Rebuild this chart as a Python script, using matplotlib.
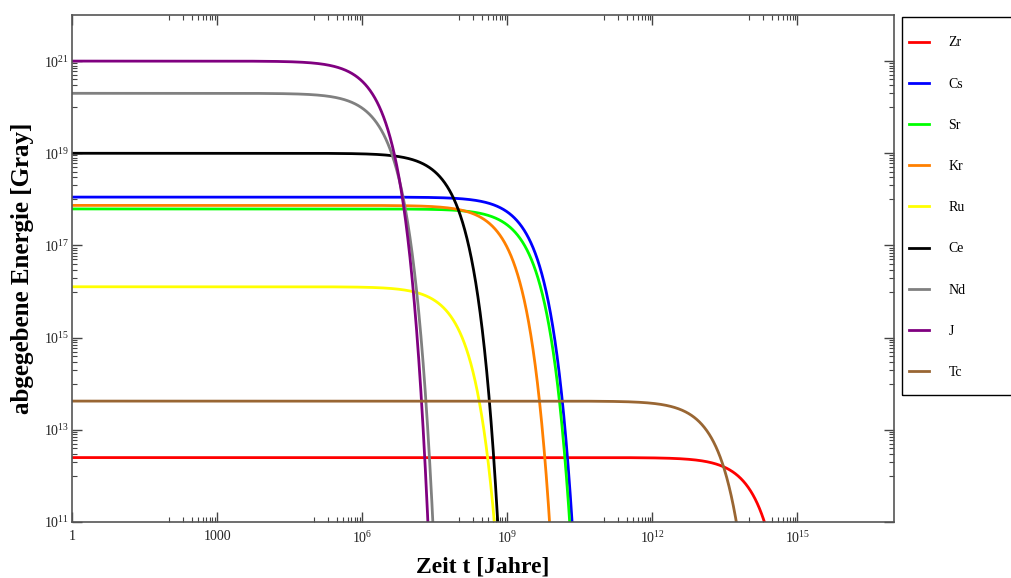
import numpy as np
import matplotlib
matplotlib.use("Agg")
import matplotlib.pyplot as plt
from matplotlib.patches import Rectangle
from matplotlib.ticker import FixedLocator, FixedFormatter

plt.rcParams['font.family'] = ['Liberation Serif', 'DejaVu Serif']
plt.rcParams['mathtext.fontset'] = 'custom'
plt.rcParams['mathtext.rm'] = 'Liberation Serif'
plt.rcParams['mathtext.it'] = 'Liberation Serif:italic'

# elements in legend order
elements = ['Zr', 'Cs', 'Sr', 'Kr', 'Ru', 'Ce', 'Nd', 'J', 'Tc']
# starting energy (Gray) read from the plateaus
start_energy = [2.5e12, 1.12e18, 6.2e17, 7.4e17, 1.27e16, 1.0e19, 2.0e20, 1.0e21, 4.2e13]
half_life = [4.5e13, 9.4e8, 8.7e8, 3.3e8, 3.2e7, 2.4e7, 9.4e5, 6.9e5, 6.3e12]

line_colors = ['#ff0000', '#0000ff', '#00ff00', '#ff8000', '#ffff00',
               '#000000', '#808080', '#800080', '#996633']

x_ticks = [1, 1e3, 1e6, 1e9, 1e12, 1e15]
x_tick_labels = ['1', '1000', '$10^{6}$', '$10^{9}$', '$10^{12}$', '$10^{15}$']
y_ticks = [1e11, 1e13, 1e15, 1e17, 1e19, 1e21]
y_tick_labels = ['$10^{11}$', '$10^{13}$', '$10^{15}$', '$10^{17}$', '$10^{19}$', '$10^{21}$']

t = np.logspace(0, 17, 3000)

fig = plt.figure(figsize=(10.11, 5.78), dpi=100)
ax = fig.add_axes([72 / 1011, 1 - 522 / 578, (894 - 72) / 1011, (522 - 15) / 578])

for name, e0, th, c in zip(elements, start_energy, half_life, line_colors):
    ax.plot(t, e0 * 0.5 ** (t / th), color=c, lw=2.0, label=name)

ax.set_xscale('log')
ax.set_yscale('log')
ax.set_xlim(1, 1e17)
ax.set_ylim(1e11, 1e22)

# Mathematica style ticks: minors only in decade below each major
x_minor = [k * m / 10 for m in x_ticks[1:] for k in range(1, 10)]
y_minor = [k * m / 10 for m in y_ticks for k in range(1, 10)]
ax.xaxis.set_major_locator(FixedLocator(x_ticks))
ax.xaxis.set_major_formatter(FixedFormatter(x_tick_labels))
ax.xaxis.set_minor_locator(FixedLocator(x_minor))
ax.xaxis.set_minor_formatter(FixedFormatter([''] * len(x_minor)))
ax.yaxis.set_major_locator(FixedLocator(y_ticks))
ax.yaxis.set_major_formatter(FixedFormatter(y_tick_labels))
ax.yaxis.set_minor_locator(FixedLocator(y_minor))
ax.yaxis.set_minor_formatter(FixedFormatter([''] * len(y_minor)))

ax.tick_params(which='both', direction='in', top=True, right=True,
               color='#444444', labelcolor='#222222', labelsize=10)
ax.tick_params(which='major', length=7, width=1)
ax.tick_params(which='minor', length=3.5, width=0.8)
ax.tick_params(axis='x', pad=6)
ax.tick_params(axis='y', pad=2)
for s in ax.spines.values():
    s.set_color('#555555')
    s.set_linewidth(1.2)

ax.set_xlabel('Zeit t [Jahre]', fontsize=17, fontweight='bold')
ax.set_ylabel('abgegebene Energie [Gray]', fontsize=18, fontweight='bold')
ax.xaxis.set_label_coords(0.5, -0.069)
ax.yaxis.set_label_coords(-0.046, 0.5)

# legend frame, cut by the right edge like in the original
frame = Rectangle((902 / 1011, 1 - 395 / 578), 0.2, (395 - 16.7) / 578,
                  transform=fig.transFigure, fill=False, edgecolor='black', lw=1.0)
fig.patches.append(frame)

leg = ax.legend(loc='upper left', bbox_to_anchor=(909 / 1011, 1 - 36.5 / 578),
                bbox_transform=fig.transFigure, fontsize=10, frameon=False,
                borderaxespad=0, borderpad=0, handlelength=1.45,
                handletextpad=1.4, handleheight=0.7, labelspacing=2.03)
for lh in leg.get_lines():
    lh.set_linewidth(2.0)

fig.savefig('out.png', dpi=100)
